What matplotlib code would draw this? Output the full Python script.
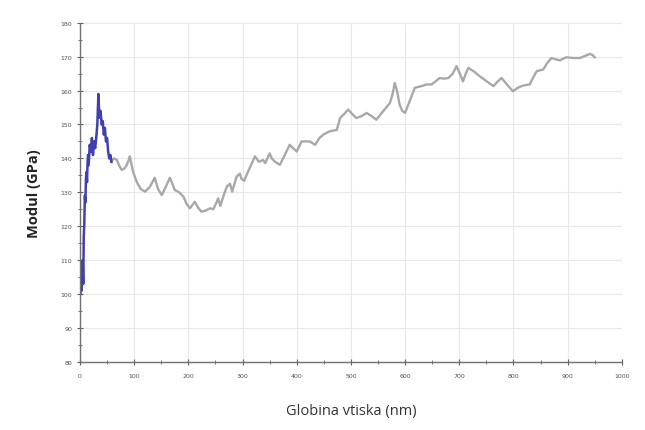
import matplotlib
matplotlib.use("Agg")
import matplotlib.pyplot as plt
from matplotlib.ticker import MultipleLocator

# indentation depth (nm) and modulus (GPa)
# early, noisy part of the curve (drawn in blue)
depth_blue = [1, 2, 3, 4, 5, 6, 7, 8, 9, 10, 11, 12, 13, 14, 15, 16, 18, 20,
              22, 24, 26, 28, 30, 32, 34, 35, 36, 38, 40, 42, 44, 46, 48, 50,
              52, 54, 56, 58]
modul_blue = [100, 104, 101, 106, 110, 103, 117, 121, 129, 127, 134, 136, 133,
              139, 141, 138, 144, 142, 146, 141, 145, 143, 146, 150, 159, 155,
              152, 154, 150, 151, 147, 149, 145, 146, 142, 140, 141, 139]

# smoother remaining part (drawn in grey)
depth_grey = [58, 62, 68, 72, 77, 82, 86, 90, 92, 98, 105, 112, 120, 129, 138,
              144, 151, 158, 166, 175, 183, 191, 197, 203, 212, 218, 224, 232,
              240, 246, 252, 255, 259, 265, 271, 277, 281, 289, 295, 298, 303,
              310, 323, 330, 338, 342, 350, 354, 360, 369, 378, 387, 400, 409,
              416, 424, 434, 442, 449, 461, 474, 480, 487, 495, 503, 510, 520,
              529, 538, 547, 560, 572, 577, 581, 585, 590, 595, 600, 610, 618,
              630, 640, 649, 657, 664, 672, 680, 688, 695, 701, 707, 712, 717,
              728, 738, 750, 763, 770, 778, 788, 799, 808, 815, 822, 830, 837,
              843, 850, 855, 862, 870, 878, 886, 892, 898, 910, 923, 932, 941,
              946, 950]
modul_grey = [139, 140, 139.6, 138, 136.6, 137, 138, 139.5, 140.6, 136, 133,
              131, 130.2, 131.6, 134.3, 131, 129.2, 131.5, 134.3, 130.7, 130,
              128.7, 126.5, 125.3, 127.2, 125.5, 124.3, 124.6, 125.3, 125,
              127, 128.2, 126, 129, 131.7, 132.5, 130.2, 134.6, 135.5, 134,
              133.4, 136, 140.6, 139, 139.5, 138.6, 141.5, 140, 139, 138.1,
              141, 144, 142, 145, 145, 145, 144, 146, 147, 148, 148.4, 151.9,
              153, 154.4, 153, 151.9, 152.5, 153.4, 152.5, 151.4, 154, 156.3,
              159, 162.2, 160, 155.8, 154, 153.4, 157.5, 160.8, 161.3, 161.8,
              161.8, 162.8, 163.7, 163.5, 163.7, 165, 167.2, 165, 162.7, 165,
              166.7, 165.5, 164.2, 162.8, 161.3, 162.5, 163.7, 161.8, 159.8,
              160.8, 161.3, 161.6, 161.8, 164, 165.7, 166, 166.2, 168, 169.6,
              169.2, 168.9, 169.4, 169.8, 169.6, 169.6, 170.2, 170.8, 170.5,
              169.8]

x_ticks = list(range(0, 1001, 100))
y_ticks = list(range(80, 181, 10))

fig = plt.figure(figsize=(6.45, 4.31), dpi=100)
ax = fig.add_axes([0.124, 0.158, 0.840, 0.787])

ax.plot(depth_grey, modul_grey, color="#a8a8a8", lw=1.7, solid_joinstyle="round")
ax.plot(depth_blue, modul_blue, color="#4040b0", lw=1.8, solid_joinstyle="round")

ax.set_xlim(0, 1000)
ax.set_ylim(80, 180)
ax.set_xticks(x_ticks)
ax.set_yticks(y_ticks)
ax.xaxis.set_minor_locator(MultipleLocator(50))
ax.yaxis.set_minor_locator(MultipleLocator(5))
ax.tick_params(which="both", direction="inout", colors="#606060", labelsize=4.5,
               labelcolor="#505050")
ax.tick_params(which="major", length=4, width=0.8)
ax.tick_params(which="minor", length=2.5, width=0.6)
ax.tick_params(axis="x", pad=6)

ax.grid(True, which="major", color="#e8e8e8", lw=0.8)
for side in ["top", "right"]:
    ax.spines[side].set_visible(False)
for side in ["left", "bottom"]:
    ax.spines[side].set_color("#707070")
    ax.spines[side].set_linewidth(1.0)

ax.set_xlabel("Globina vtiska (nm)", family="Open Sans", fontsize=10.5,
              color="#333333", labelpad=18)
ax.set_ylabel("Modul (GPa)", family="Open Sans", fontsize=10.5,
              fontweight="bold", color="#222222", labelpad=14)

fig.savefig("out.png", dpi=100)
